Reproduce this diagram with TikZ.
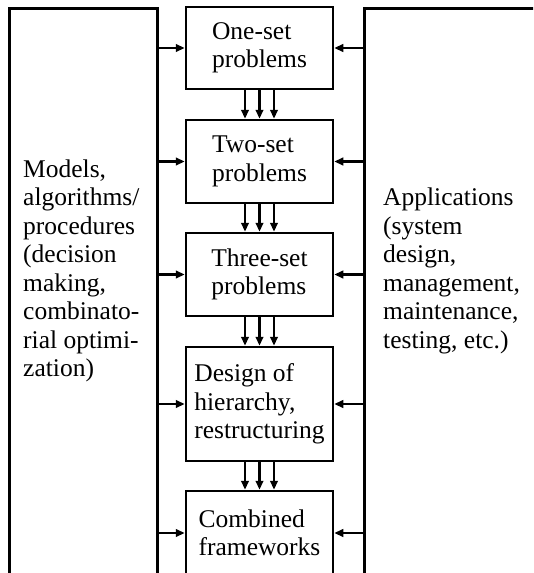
\documentclass[tikz,border=0pt]{standalone}
\usepackage{fontspec}
\setmainfont{Liberation Serif}
\usetikzlibrary{arrows.meta}
\begin{document}
\begin{tikzpicture}[x=1pt,y=-1pt,
  every node/.style={font=\fontsize{25.5}{28.5}\selectfont},
  frame/.style={draw, line width=2.5pt, rectangle, inner sep=0pt},
  stage/.style={frame, minimum width=147pt, align=left},
  arr/.style={line width=2.4pt, -{Triangle[length=9pt,width=7.5pt]}},
  sidetext/.style={align=left, inner sep=0pt, anchor=west}]
\useasboundingbox (0,0) rectangle (533,573);
\clip (0,0) rectangle (533,573);

% outer frames on both sides (they run past the page edges)
\node[frame, anchor=north west, minimum width=148pt, minimum height=620pt] (mbox) at (8,7) {};
\node[frame, anchor=north west, minimum width=220pt, minimum height=620pt] (abox) at (363,7) {};

\node[sidetext] (mtext) at (23,271) {Models,\\algorithms/\\procedures\\(decision\\making,\\combinato-\\rial optimi-\\zation)};
\node[sidetext] (atext) at (383,271) {Applications\\(system\\design,\\management,\\maintenance,\\testing, etc.)};

% central chain of problem classes
\node[stage, minimum height=82pt]  (b1) at (259.5,48)    {One-set\\problems};
\node[stage, minimum height=83pt]  (b2) at (259.5,161.5) {Two-set\\problems};
\node[stage, minimum height=83pt]  (b3) at (259.5,274.5) {Three-set\\problems};
\node[stage, minimum height=114pt] (b4) at (259.5,404)   {Design of\\hierarchy,\\restructuring};
\node[stage, minimum height=84pt]  (b5) at (259.5,533)   {Combined\\frameworks};

% inputs from both sides
\foreach \b in {b1,b2,b3,b4,b5}{
  \draw[arr] (mbox.east |- \b) -- (\b.west);
  \draw[arr] (abox.west |- \b) -- (\b.east);
}

% triple links between consecutive stages
\foreach \u/\v in {b1/b2,b2/b3,b3/b4,b4/b5}{
  \foreach \dx in {-14.5,0,14.5}{
    \draw[arr] ([xshift=\dx pt]\u.south) -- ([xshift=\dx pt]\v.north);
  }
}
\end{tikzpicture}
\end{document}
